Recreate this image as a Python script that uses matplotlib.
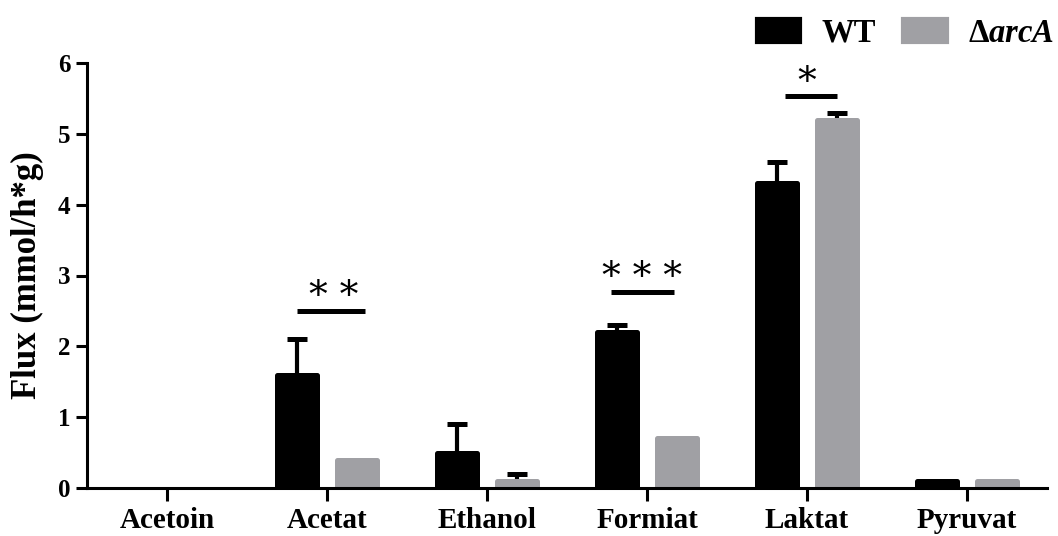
import matplotlib
matplotlib.use("Agg")
import matplotlib.pyplot as plt
from matplotlib.patches import Patch
import numpy as np

categories = ["Acetoin", "Acetat", "Ethanol", "Formiat", "Laktat", "Pyruvat"]
wt_values = [0.0, 1.6, 0.5, 2.2, 4.3, 0.1]
wt_errors = [0.0, 0.5, 0.4, 0.1, 0.3, 0.0]
ko_values = [0.0, 0.4, 0.1, 0.7, 5.2, 0.1]
ko_errors = [0.0, 0.0, 0.1, 0.0, 0.1, 0.0]
series_labels = ["WT", r"$\mathrm{\Delta}\mathit{arcA}$"]
yticks = [0, 1, 2, 3, 4, 5, 6]

sig_x_start = [0.8125, 2.775, 3.8625]
sig_x_end = [1.2375, 3.17, 4.1875]
sig_y = [2.5, 2.77, 5.53]
sig_text = ["* *", "* * *", "*"]
sig_text_x = [1.04, 2.97, 4.0]

WT_COLOR = "#000000"
KO_COLOR = "#A0A0A4"

plt.rcParams["font.family"] = ["Liberation Serif", "DejaVu Serif"]
plt.rcParams["font.weight"] = "bold"
plt.rcParams["mathtext.fontset"] = "custom"
plt.rcParams["mathtext.rm"] = "Liberation Serif:weight=bold"
plt.rcParams["mathtext.it"] = "Liberation Serif:style=italic:weight=bold"

fig = plt.figure(figsize=(10.58, 5.36), dpi=100)
ax = fig.add_axes([87 / 1058, 1 - 488 / 536, 960 / 1058, 425 / 536])

x = np.arange(len(categories))
off = 0.1875
w = 0.256
edge_lw = 3.6

b1 = ax.bar(x - off, wt_values, w, color=WT_COLOR, edgecolor=WT_COLOR,
            linewidth=edge_lw, joinstyle="round", zorder=2)
b2 = ax.bar(x + off, ko_values, w, color=KO_COLOR, edgecolor=KO_COLOR,
            linewidth=edge_lw, joinstyle="round", zorder=2)
for bars, vals in ((b1, wt_values), (b2, ko_values)):
    for p, v in zip(bars, vals):
        if v == 0:
            p.set_linewidth(0)

for xs, vals, errs in ((x - off, wt_values, wt_errors), (x + off, ko_values, ko_errors)):
    xs = np.asarray(xs)
    vals = np.asarray(vals)
    errs = np.asarray(errs)
    m = errs > 0
    _, caps, _ = ax.errorbar(xs[m], vals[m], yerr=[np.zeros(m.sum()), errs[m]],
                             fmt="none", ecolor="black", elinewidth=3.0, capsize=7,
                             capthick=3.6, zorder=1.5)
    caps[0].set_visible(False)

for xs0, xs1, yy, t, tx in zip(sig_x_start, sig_x_end, sig_y, sig_text, sig_text_x):
    ax.plot([xs0, xs1], [yy, yy], color="black", lw=3.6, solid_capstyle="butt", zorder=3)
    ax.text(tx, yy + 0.05, t, ha="center", va="baseline", fontsize=27,
            family=["DejaVu Serif"], fontweight="normal")

ax.set_xlim(-0.5, 5.5)
ax.set_ylim(0, 6)
ax.set_yticks(yticks)
ax.set_yticklabels([str(v) for v in yticks], fontsize=18, fontweight="bold")
ax.set_xticks(x)
ax.set_xticklabels(categories, fontsize=21, fontweight="bold")
ax.set_ylabel("Flux (mmol/h*g)", fontsize=25, fontweight="bold", labelpad=10)

for s in ("top", "right"):
    ax.spines[s].set_visible(False)
for s in ("left", "bottom"):
    ax.spines[s].set_linewidth(2.2)
    ax.spines[s].set_zorder(4)
ax.tick_params(axis="both", direction="out", width=2.2, length=8, pad=4)
ax.tick_params(axis="x", length=9, pad=5)

handles = [Patch(facecolor=WT_COLOR, edgecolor=WT_COLOR, linewidth=3, joinstyle="round"),
           Patch(facecolor=KO_COLOR, edgecolor=KO_COLOR, linewidth=3, joinstyle="round")]
leg = fig.legend(handles, series_labels, loc="center left",
                 bbox_to_anchor=(757 / 1058, 1 - 33 / 536), ncol=2, frameon=False,
                 fontsize=23.5, handlelength=1.32, handleheight=0.7,
                 handletextpad=0.65, columnspacing=0.85, borderpad=0, borderaxespad=0)
for t in leg.get_texts():
    t.set_fontweight("bold")

fig.savefig("out.png", dpi=100)
